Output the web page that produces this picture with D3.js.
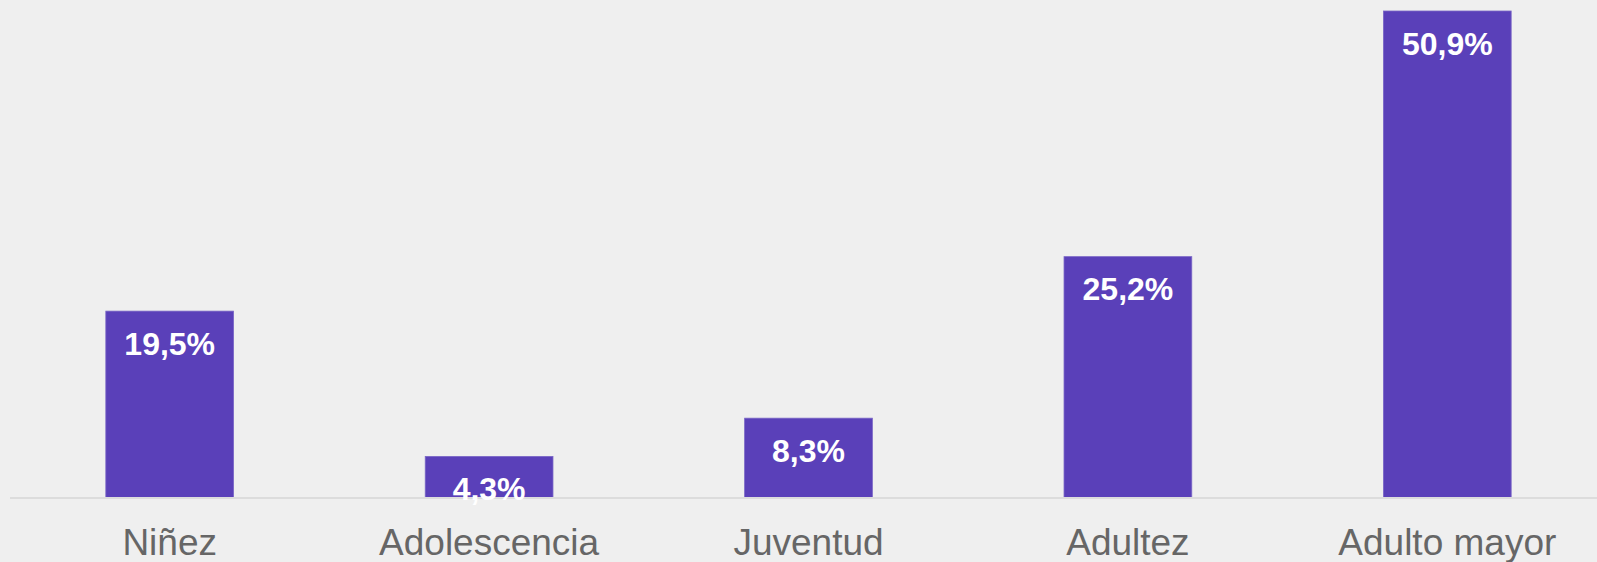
<!DOCTYPE html>
<html>
<head>
<meta charset="utf-8">
<script src="https://cdn.jsdelivr.net/npm/d3@7"></script>
<style>
  html, body { margin: 0; padding: 0; background: #efefef; }
  svg { display: block; }
</style>
</head>
<body>
<svg id="chart" width="1597" height="562"></svg>
<script>
const categories = ["Niñez", "Adolescencia", "Juventud", "Adultez", "Adulto mayor"];
const values = [19.5, 4.3, 8.3, 25.2, 50.9];
const valueLabels = ["19,5%", "4,3%", "8,3%", "25,2%", "50,9%"];

const W = 1597, H = 562;
const svg = d3.select("#chart");
svg.append("rect").attr("width", W).attr("height", H).attr("fill", "#efefef");

const x = d3.scaleBand().domain(categories).range([10, 1607]).paddingInner(0.6).paddingOuter(0.3);
const y = d3.scaleLinear().domain([0, 50.9]).range([497.5, 11]);

const data = categories.map((c, i) => ({ c, v: values[i], l: valueLabels[i] }));

svg.append("g").selectAll("rect").data(data).join("rect")
  .attr("x", d => x(d.c))
  .attr("y", d => y(d.v))
  .attr("width", x.bandwidth())
  .attr("height", d => y(0) - y(d.v))
  .attr("fill", "#5a40b9")
  .attr("stroke", "#7a66c6")
  .attr("stroke-width", 0.8);

svg.append("line")
  .attr("x1", 10).attr("x2", W)
  .attr("y1", y(0) + 0.5).attr("y2", y(0) + 0.5)
  .attr("stroke", "#dcdcdc").attr("stroke-width", 2);

svg.append("g").selectAll("text").data(data).join("text")
  .attr("x", d => x(d.c) + x.bandwidth() / 2)
  .attr("y", d => y(d.v) + 43.5)
  .attr("text-anchor", "middle")
  .attr("fill", "#ffffff")
  .attr("font-family", "Liberation Sans, Arial, sans-serif")
  .attr("font-weight", "bold")
  .attr("font-size", 32)
  .text(d => d.l);

const xAxis = svg.append("g").attr("transform", `translate(0,${y(0)})`)
  .call(d3.axisBottom(x).tickSize(0).tickPadding(0));
xAxis.select(".domain").remove();
xAxis.selectAll("text")
  .attr("dy", null)
  .attr("y", 57)
  .attr("fill", "#666666")
  .attr("font-family", "Liberation Sans, Arial, sans-serif")
  .attr("font-size", 37);
</script>
</body>
</html>
